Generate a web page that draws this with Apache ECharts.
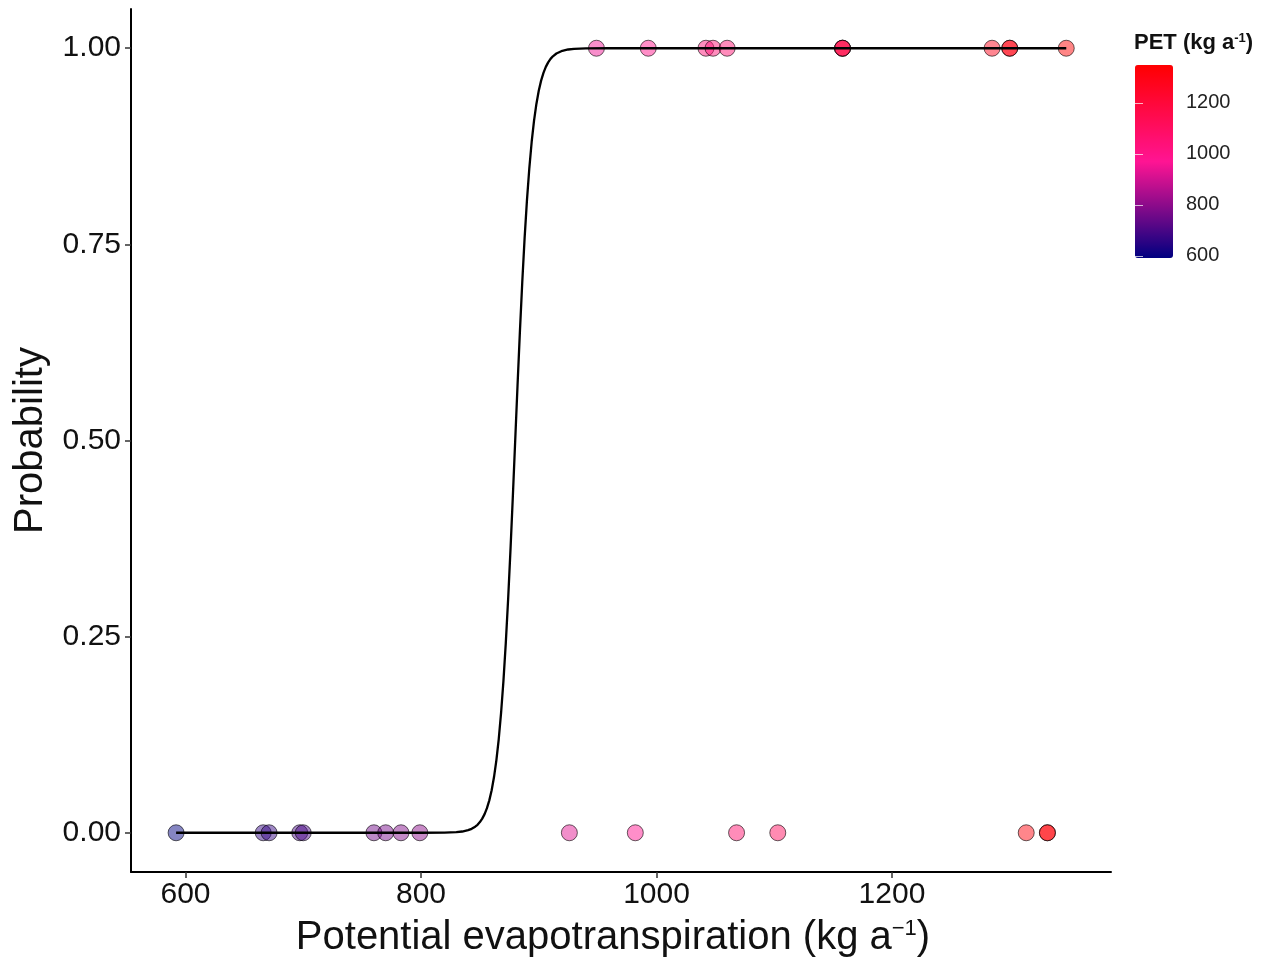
<!DOCTYPE html>
<html>
<head>
<meta charset="utf-8">
<script src="https://cdn.jsdelivr.net/npm/echarts@6/dist/echarts.min.js"></script>
<style>
  html, body { margin: 0; padding: 0; background: #fff; }
  #chart { width: 1265px; height: 960px; }
</style>
</head>
<body>
<div id="chart"></div>
<script>
// 관측값: 확률 0 / 1 인 지점의 PET
const petAbsent = [592, 666, 671, 697, 700, 760, 770, 783, 799, 926, 982, 1068, 1103, 1314, 1332, 1332];
const petPresent = [949, 993, 1042, 1048, 1060, 1158, 1158, 1158, 1285, 1300, 1300, 1348];

// 로지스틱 적합 곡선
const curveX = [592, 700, 800, 820, 830, 835, 840, 843, 846, 848, 850, 852, 854, 856, 858, 860,
                862, 864, 866, 868, 870, 872, 874, 876, 878, 880, 882, 884, 886, 888, 890,
                892, 894, 896, 898, 900, 902, 904, 906, 908, 910, 912, 915, 920, 925, 930, 940, 960, 1348];
const curveP = [0, 0, 0.00001, 0.0002, 0.0008, 0.0016, 0.0033, 0.0050, 0.0077, 0.0102, 0.0136, 0.0180, 0.0238, 0.0314, 0.0413, 0.0543,
                0.0710, 0.0923, 0.1192, 0.1527, 0.1933, 0.2418, 0.2979, 0.3609, 0.4290, 0.5, 0.5710, 0.6391, 0.7021, 0.7582, 0.8067,
                0.8473, 0.8808, 0.9077, 0.9290, 0.9457, 0.9587, 0.9686, 0.9762, 0.9820, 0.9864, 0.9897, 0.9933, 0.9967, 0.9984, 0.9992, 0.9998, 1, 1];

const xTicks = [600, 800, 1000, 1200];
const yTicks = [0, 0.25, 0.5, 0.75, 1];
const legendTicks = [600, 800, 1000, 1200];
const gradientColors = ['#000080', '#ff1493', '#ff0000'];

const allPet = petAbsent.concat(petPresent);
const petMin = Math.min.apply(null, allPet);
const petMax = Math.max.apply(null, allPet);

let points = petAbsent.map(v => [v, 0]).concat(petPresent.map(v => [v, 1]));
let curve = curveX.map((x, i) => [x, curveP[i]]);

const font = 'Liberation Sans, Arial, sans-serif';
let chart = echarts.init(document.getElementById('chart'));

let legendTick = { show: true, inside: true, length: 8, lineStyle: { color: 'rgba(255,255,255,0.7)', width: 1 }, customValues: legendTicks };

let option = {
    backgroundColor: '#fff',
    animation: false,
    textStyle: { fontFamily: font },
    title: {
        text: '{b|PET (kg a}{s|-1}{b|)}',
        left: 1134,
        top: 32,
        padding: 0,
        textStyle: {
            rich: {
                b: { fontFamily: font, fontWeight: 'bold', fontSize: 22, color: '#111' },
                s: { fontFamily: font, fontWeight: 'bold', fontSize: 13, color: '#111', verticalAlign: 'top' }
            }
        }
    },
    grid: [
        { left: 131, right: 154, top: 9, bottom: 88, outerBoundsMode: 'none' },
        { left: 1135, top: 65, width: 38, height: 193, outerBoundsMode: 'none' }
    ],
    xAxis: [
        {
            type: 'value',
            min: 553.7,
            max: 1386,
            splitLine: { show: false },
            axisLine: { onZero: false, lineStyle: { color: '#000', width: 2 } },
            axisTick: { show: true, length: 6, lineStyle: { color: '#333', width: 1.5 }, customValues: xTicks },
            axisLabel: { customValues: xTicks, fontSize: 30, color: '#111', margin: 8, fontFamily: font, formatter: v => String(v) },
            name: '{a|Potential evapotranspiration (kg a}{s|\u22121}{a|)}',
            nameLocation: 'middle',
            nameGap: 46,
            nameTextStyle: {
                padding: [0, 16, 0, 0],
                rich: {
                    a: { fontFamily: font, fontSize: 40, color: '#111' },
                    s: { fontFamily: font, fontSize: 22, color: '#111', verticalAlign: 'top' }
                }
            }
        },
        { gridIndex: 1, type: 'value', min: 0, max: 1, show: false }
    ],
    yAxis: [
        {
            type: 'value',
            min: -0.05,
            max: 1.05,
            splitLine: { show: false },
            axisLine: { show: true, onZero: false, lineStyle: { color: '#000', width: 2 } },
            axisTick: { show: true, length: 6, lineStyle: { color: '#333', width: 1.5 }, customValues: yTicks },
            axisLabel: {
                customValues: yTicks, fontSize: 30, color: '#111', margin: 10, fontFamily: font,
                formatter: v => v.toFixed(2)
            },
            name: 'Probability',
            nameLocation: 'middle',
            nameGap: 80,
            nameTextStyle: { fontFamily: font, fontSize: 40, color: '#111' }
        },
        {
            gridIndex: 1, type: 'value', position: 'right', min: petMin, max: petMax, z: 10,
            splitLine: { show: false },
            axisLine: { show: false },
            axisTick: legendTick,
            axisLabel: { customValues: legendTicks, fontSize: 20, color: '#222', margin: 13, fontFamily: font, formatter: v => String(v) }
        },
        {
            gridIndex: 1, type: 'value', position: 'left', min: petMin, max: petMax, z: 10,
            splitLine: { show: false },
            axisLine: { show: false },
            axisTick: legendTick,
            axisLabel: { show: false }
        }
    ],
    visualMap: {
        type: 'continuous',
        seriesIndex: 0,
        dimension: 0,
        min: petMin,
        max: petMax,
        calculable: false,
        hoverLink: false,
        left: 1135,
        top: 65,
        padding: 0,
        itemWidth: 38,
        itemHeight: 193,
        inRange: { color: gradientColors, colorAlpha: 0.6 },
        controller: { inRange: { color: gradientColors, colorAlpha: 1 } }
    },
    series: [
        {
            type: 'scatter',
            data: points,
            symbolSize: 16,
            z: 2,
            itemStyle: { borderColor: 'rgba(0,0,0,0.75)', borderWidth: 1 }
        },
        {
            type: 'line',
            data: curve,
            showSymbol: false,
            smooth: false,
            z: 3,
            lineStyle: { color: '#000', width: 2.3 }
        }
    ]
};

option && chart.setOption(option);
</script>
</body>
</html>
